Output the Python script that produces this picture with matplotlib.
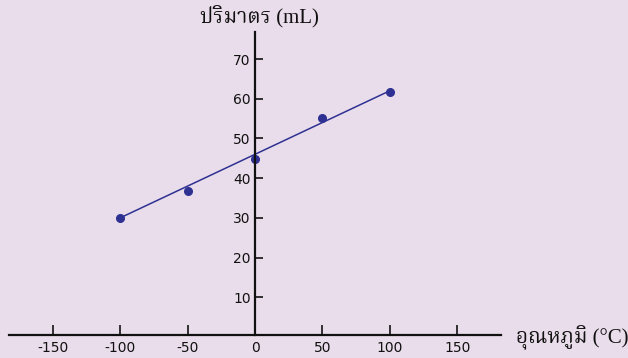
import matplotlib
matplotlib.use("Agg")
import matplotlib.pyplot as plt
from matplotlib import font_manager

# data
temp = [-100, -50, 0, 50, 100]
volume = [30, 36.7, 44.9, 55.1, 61.7]
fit_x = [-100, 100]
fit_y = [30, 62]
xticks = [-150, -100, -50, 0, 50, 100, 150]
yticks = [10, 20, 30, 40, 50, 60, 70]

# look for a font that can draw Thai, serif / looped ones first
thai = sorted({f.name for f in font_manager.fontManager.ttflist if "thai" in f.name.lower()})
thai.sort(key=lambda n: (0 if "Serif" in n else 1 if "Looped" in n else 2, n))
fams = ["Liberation Serif"] + thai + ["DejaVu Sans"]

bg = "#EADDEB"
blue = "#2E3192"
ink = "#111111"

fig = plt.figure(figsize=(6.28, 3.58), dpi=100, facecolor=bg)
ax = fig.add_axes([9 / 628, 23 / 358, 492 / 628, 303 / 358])
ax.set_facecolor(bg)

ax.plot(fit_x, fit_y, color=blue, lw=1.1)
ax.plot(temp, volume, "o", color=blue, ms=5.5)

ax.set_xlim(-182.5, 182.5)
ax.set_ylim(0.5, 76.8)
ax.spines["top"].set_visible(False)
ax.spines["right"].set_visible(False)
ax.spines["left"].set_position(("data", 0))
for s in ("left", "bottom"):
    ax.spines[s].set_linewidth(1.6)
    ax.spines[s].set_color(ink)

ax.set_xticks(xticks)
ax.set_xticklabels([str(v) for v in xticks])
ax.set_yticks(yticks)
ax.set_yticklabels([str(v) for v in yticks])
ax.tick_params(axis="x", direction="in", length=7, width=1.2, pad=4, labelsize=10, colors=ink)
ax.tick_params(axis="y", direction="in", length=6, width=1.2, pad=3, labelsize=10, colors=ink)

fig.text(259 / 628, 1 - 17 / 358, "ปริมาตร (mL)", ha="center", va="center",
         fontsize=15, family=fams, color=ink)
fig.text(516 / 628, 1 - 338 / 358, "อุณหภูมิ (°C)", ha="left", va="center",
         fontsize=15, family=fams, color=ink)

fig.savefig("out.png", dpi=100, facecolor=bg)
